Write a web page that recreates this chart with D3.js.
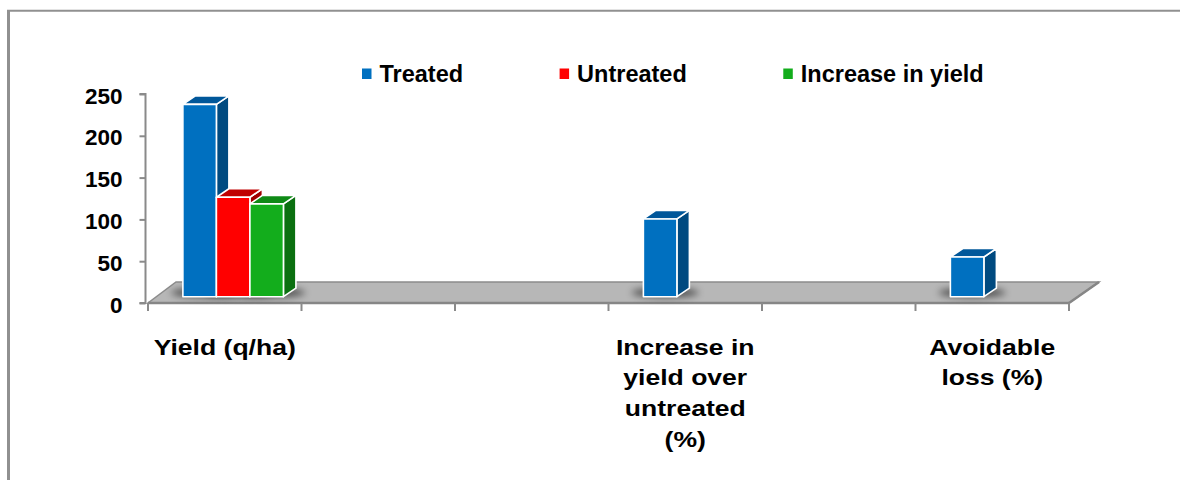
<!DOCTYPE html>
<html>
<head>
<meta charset="utf-8">
<script src="https://cdn.jsdelivr.net/npm/d3@7"></script>
<style>
  html, body { margin: 0; padding: 0; background: #fff; }
  svg { display: block; }
  text { font-family: Arial, "Liberation Sans", sans-serif; font-weight: bold; fill: #000; }
</style>
</head>
<body>
<svg id="chart" width="1180" height="480"></svg>
<script>
// ---------- data ----------
const categories = ["Yield (q/ha)", "", "", "Increase in yield over untreated (%)", "", "Avoidable loss (%)"];
const seriesNames = ["Treated", "Untreated", "Increase in yield"];
const treated   = [230, null, null, 93, null, 47.5];
const untreated = [119, null, null, null, null, null];
const increase  = [111, null, null, null, null, null];
const yTicks = [0, 50, 100, 150, 200, 250];

// ---------- styles ----------
const colors = {
  "Treated":           { front: "#0070C0", top: "#00579A", side: "#004A80" },
  "Untreated":         { front: "#FF0000", top: "#C00000", side: "#A00000" },
  "Increase in yield": { front: "#13AD1C", top: "#0F8A16", side: "#0B7010" }
};
const seriesData = [treated, untreated, increase];

const svg = d3.select("#chart");

// frame border
svg.append("line").attr("x1", 8.5).attr("x2", 8.5).attr("y1", 10).attr("y2", 480)
  .attr("stroke", "#909090").attr("stroke-width", 3);
svg.append("line").attr("x1", 7).attr("x2", 1180).attr("y1", 10.8).attr("y2", 10.8)
  .attr("stroke", "#909090").attr("stroke-width", 2);

// scales
const x0 = d3.scaleBand().domain(d3.range(categories.length)).range([148, 1069]).paddingInner(0).paddingOuter(0);
const x1 = d3.scaleBand().domain(seriesNames).range([0, x0.bandwidth()]).paddingInner(0).paddingOuter(0.79);
const y = d3.scaleLinear().domain([0, 250]).range([303, 94]);

// floor geometry
const floorY = y(0);
const depth = { dx: 28, dy: -21 };
const barShift = { dx: 8.4, dy: -6.3 };   // front face of bars within floor depth
const barDepth = { dx: 12.5, dy: -8.5 };

// defs
const defs = svg.append("defs");
defs.append("filter").attr("id", "blur").attr("x", "-50%").attr("y", "-200%").attr("width", "200%").attr("height", "500%")
  .append("feGaussianBlur").attr("stdDeviation", 3.5);

// floor
const fx0 = x0.range()[0], fx1 = x0.range()[1];
svg.append("path")
  .attr("d", `M${fx0},${floorY} L${fx1},${floorY} L${fx1 + depth.dx + 2},${floorY + depth.dy} L${fx0 + depth.dx},${floorY + depth.dy} Z`)
  .attr("fill", "#b7b7b7").attr("stroke", "#8c8c8c").attr("stroke-width", 1.5);
svg.append("line").attr("x1", fx0).attr("x2", fx1).attr("y1", floorY).attr("y2", floorY)
  .attr("stroke", "#868686").attr("stroke-width", 2.5);
svg.append("line").attr("x1", fx1).attr("x2", fx1 + depth.dx + 2).attr("y1", floorY).attr("y2", floorY + depth.dy)
  .attr("stroke", "#868686").attr("stroke-width", 2.5);

// y axis
const yAxis = d3.axisLeft(y).tickValues(yTicks).tickSize(6).tickPadding(17);
const gy = svg.append("g").attr("transform", "translate(145.5,0)").call(yAxis);
gy.select(".domain").attr("stroke", "#8a8a8a").attr("stroke-width", 2).attr("d", `M-6,${y(250)}H0V${y(0)}H-6`);
gy.selectAll(".tick line").attr("stroke", "#8a8a8a").attr("stroke-width", 2);
gy.selectAll(".tick text").attr("font-size", "22.5px").attr("font-weight", "bold")
  .attr("font-family", 'Arial, "Liberation Sans", sans-serif').attr("fill", "#000").attr("dy", "0.4em");

// x axis ticks (category boundaries)
const bounds = d3.range(categories.length + 1).map(i => i < categories.length ? x0(i) : x0(i - 1) + x0.bandwidth());
svg.append("g").selectAll("line").data(bounds).join("line")
  .attr("x1", d => d).attr("x2", d => d).attr("y1", floorY).attr("y2", floorY + 8)
  .attr("stroke", "#8a8a8a").attr("stroke-width", 2);

// bars
const baseY = floorY + barShift.dy;
const bars = [];
categories.forEach((c, i) => {
  seriesNames.forEach((s, j) => {
    const v = seriesData[j][i];
    if (v == null) return;
    const xf = x0(i) + x1(s) + barShift.dx;
    const h = y(0) - y(v);
    bars.push({ s, xf, w: x1.bandwidth(), top: baseY - h, base: baseY });
  });
});

// shadows
svg.append("g").selectAll("ellipse").data(bars).join("ellipse")
  .attr("cx", d => d.xf + d.w * 0.65).attr("cy", d => d.base - 4)
  .attr("rx", d => d.w * 1.0).attr("ry", 5)
  .attr("fill", "#000").attr("opacity", 0.55).attr("filter", "url(#blur)");

const gb = svg.append("g");
bars.forEach(d => {
  const c = colors[d.s];
  const { dx, dy } = barDepth;
  const g = gb.append("g").attr("stroke", "#fff").attr("stroke-width", 1.6).attr("stroke-linejoin", "round");
  g.append("path").attr("fill", c.side)
    .attr("d", `M${d.xf + d.w},${d.top} L${d.xf + d.w + dx},${d.top + dy} L${d.xf + d.w + dx},${d.base + dy} L${d.xf + d.w},${d.base} Z`);
  g.append("path").attr("fill", c.top)
    .attr("d", `M${d.xf},${d.top} L${d.xf + d.w},${d.top} L${d.xf + d.w + dx},${d.top + dy} L${d.xf + dx},${d.top + dy} Z`);
  g.append("rect").attr("fill", c.front)
    .attr("x", d.xf).attr("y", d.top).attr("width", d.w).attr("height", d.base - d.top);
});

// category labels (wrapped)
const lblScale = 1.18, maxW = 130, lineH = 31;
const measure = svg.append("text").attr("font-size", "22.5px").attr("visibility", "hidden");
function tw(t) { measure.text(t); return measure.node().getComputedTextLength(); }
categories.forEach((c, i) => {
  if (!c) return;
  const words = c.split(" ");
  const lines = [];
  let cur = "";
  words.forEach(w => {
    const t = cur ? cur + " " + w : w;
    if (tw(t) > maxW && cur) { lines.push(cur); cur = w; } else cur = t;
  });
  if (cur) lines.push(cur);
  const cx = x0(i) + x0.bandwidth() / 2;
  const g = svg.append("g").attr("transform", `translate(${cx},354.5) scale(${lblScale},1)`);
  lines.forEach((l, k) => {
    g.append("text").attr("x", 0).attr("y", k * lineH).attr("text-anchor", "middle")
      .attr("font-size", "22.5px").text(l);
  });
});
measure.remove();

// legend
const lg = svg.append("g");
let lx = 362;
seriesNames.forEach(s => {
  lg.append("rect").attr("x", lx).attr("y", 68.5).attr("width", 9.5).attr("height", 10.5)
    .attr("fill", colors[s].front);
  const t = lg.append("text").attr("x", lx + 17.5).attr("y", 81.7).attr("font-size", "23.5px").text(s);
  lx = lx + 17.5 + t.node().getComputedTextLength() + 96.5;
});
</script>
</body>
</html>
